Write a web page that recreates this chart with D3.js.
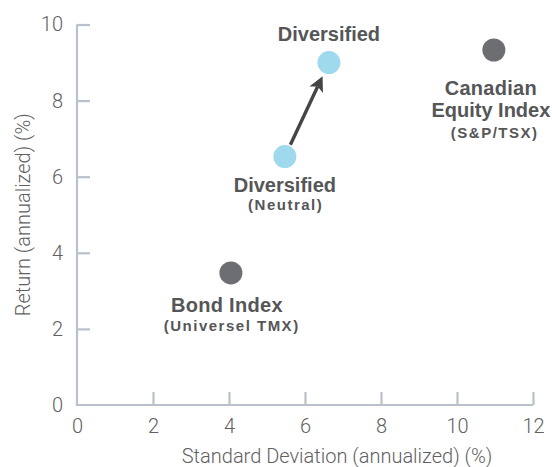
<!DOCTYPE html>
<html>
<head>
<meta charset="utf-8">
<script src="https://cdn.jsdelivr.net/npm/d3@7"></script>
<style>
  html, body { margin: 0; padding: 0; background: #ffffff; }
  svg { display: block; }
</style>
</head>
<body>
<svg id="chart" width="552" height="467"></svg>
<script>
// Risk / return of the portfolios and their reference indices
const assets   = ["Bond Index", "Diversified (Neutral)", "Diversified", "Canadian Equity Index"];
const stdDev   = [4.05, 5.47, 6.63, 10.97];   // annualized standard deviation (%)
const returns  = [3.47, 6.53, 9.0, 9.33];     // annualized return (%)
const kinds    = ["index", "portfolio", "portfolio", "index"];
const titles   = [["Bond Index"], ["Diversified"], ["Diversified"], ["Canadian", "Equity Index"]];
const subtitles = ["(Universel TMX)", "(Neutral)", "", "(S&P/TSX)"];

const xTicks = [0, 2, 4, 6, 8, 10, 12];
const yTicks = [0, 2, 4, 6, 8, 10];
const xTitle = "Standard Deviation (annualized) (%)";
const yTitle = "Return (annualized) (%)";

// shift from the neutral portfolio (index 1) to the diversified allocation (index 2)
const shiftFrom = 1, shiftTo = 2;

// label placement relative to each point: baseline offsets of title lines and subtitle
const labelLayout = [
  { dx: -4, lines: [39],     sub: 58 },
  { dx: 0,  lines: [35],     sub: 53 },
  { dx: 0,  lines: [-22],    sub: null },
  { dx: -3, lines: [45, 67], sub: 88 }
];

const colors = { index: "#6d6e71", portfolio: "#9fd9ee" };
const axisColor = "#b9c1ca";
const textColor = "#555658";
const tickColor = "#5f6062";
const lightFont = "Roboto, 'Liberation Sans', sans-serif";

const svg = d3.select("#chart");

const x = d3.scaleLinear().domain([0, 12]).range([77, 533]);
const y = d3.scaleLinear().domain([0, 10]).range([405, 24.5]);

// axes: ticks point into the plot area
const xAxis = d3.axisBottom(x).tickValues(xTicks)
  .tickSizeInner(-13).tickSizeOuter(0).tickPadding(14);
const yAxis = d3.axisLeft(y).tickValues(yTicks)
  .tickSizeInner(-13).tickSizeOuter(0).tickPadding(14);

const gx = svg.append("g").attr("transform", `translate(0,${y(0)})`).call(xAxis);
const gy = svg.append("g").attr("transform", `translate(${x(0)},0)`).call(yAxis);

[gx, gy].forEach(g => {
  g.select(".domain").attr("stroke", axisColor).attr("stroke-width", 2.2);
  g.selectAll(".tick line").attr("stroke", axisColor).attr("stroke-width", 2.2);
  // the origin needs no tick mark: the other axis runs through it
  g.selectAll(".tick").filter(d => d === 0).select("line").remove();
  g.selectAll(".tick text")
    .attr("fill", tickColor)
    .style("font-family", lightFont)
    .style("font-weight", 300)
    .style("font-size", "20px");
});
// extend the domain lines across the stroke joins
gx.select(".domain").attr("d", `M${x(0) - 1.1},0H${x(12)}`);
gy.select(".domain").attr("d", `M0,${y(0) + 1.1}V${y(10)}`);

// axis titles
svg.append("text")
  .attr("x", 337).attr("y", 463)
  .attr("text-anchor", "middle").attr("fill", tickColor)
  .style("font-family", lightFont)
  .style("font-weight", 300).style("font-size", "20px")
  .text(xTitle);

svg.append("text")
  .attr("transform", `translate(30,${(y(0) + y(10)) / 2}) rotate(-90)`)
  .attr("text-anchor", "middle").attr("fill", tickColor)
  .style("font-family", lightFont)
  .style("font-weight", 300).style("font-size", "20px")
  .text(yTitle);

// arrow from the neutral portfolio to the diversified allocation
const x0 = x(stdDev[shiftFrom]), y0 = y(returns[shiftFrom]);
const x1 = x(stdDev[shiftTo]),   y1 = y(returns[shiftTo]);
const len = Math.hypot(x1 - x0, y1 - y0);
const ux = (x1 - x0) / len, uy = (y1 - y0) / len;
const sx = x0 + ux * 13, sy = y0 + uy * 13;
const tx = x1 - ux * 15, ty = y1 - uy * 15;
const headLen = 15, headHalf = 7.5, notch = 3.5;
const bx = tx - ux * headLen, by = ty - uy * headLen;
const px = -uy, py = ux;

svg.append("line")
  .attr("x1", sx).attr("y1", sy)
  .attr("x2", tx - ux * (headLen - notch)).attr("y2", ty - uy * (headLen - notch))
  .attr("stroke", "#444547").attr("stroke-width", 3.4);

svg.append("path")
  .attr("d", `M${tx},${ty}L${bx + px * headHalf},${by + py * headHalf}` +
             `L${tx - ux * (headLen - notch)},${ty - uy * (headLen - notch)}` +
             `L${bx - px * headHalf},${by - py * headHalf}Z`)
  .attr("fill", "#444547");

// points
svg.selectAll("circle.pt")
  .data(assets)
  .join("circle")
  .attr("class", "pt")
  .attr("cx", (d, i) => x(stdDev[i]))
  .attr("cy", (d, i) => y(returns[i]))
  .attr("r", 11.5)
  .attr("fill", (d, i) => colors[kinds[i]]);

// point labels
assets.forEach((name, i) => {
  const cx = x(stdDev[i]), cy = y(returns[i]);
  const lay = labelLayout[i];
  titles[i].forEach((line, j) => {
    svg.append("text")
      .attr("x", cx + lay.dx).attr("y", cy + lay.lines[j])
      .attr("text-anchor", "middle").attr("fill", textColor)
      .style("font-family", "'Liberation Sans', Arial, sans-serif")
      .style("font-weight", 700).style("font-size", "20px")
      .style("letter-spacing", line.length > 10 ? "0px" : "0.3px")
      .text(line);
  });
  if (subtitles[i]) {
    svg.append("text")
      .attr("x", cx + 0.8).attr("y", cy + lay.sub)
      .attr("text-anchor", "middle").attr("fill", textColor)
      .style("font-family", "'Liberation Sans', Arial, sans-serif")
      .style("font-weight", 700).style("font-size", "15px")
      .style("letter-spacing", "1.5px")
      .text(subtitles[i]);
  }
});
</script>
</body>
</html>
